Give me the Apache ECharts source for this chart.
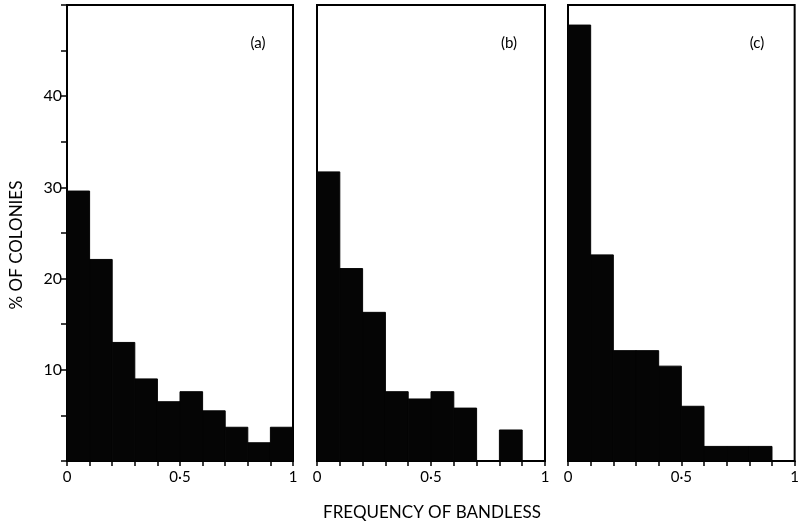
<!DOCTYPE html>
<html>
<head>
<meta charset="utf-8">
<style>
  html, body { margin: 0; padding: 0; background: #fff; }
  #chart { width: 802px; height: 528px; }
</style>
<script src="https://cdn.jsdelivr.net/npm/echarts@6/dist/echarts.min.js"></script>
</head>
<body>
<div id="chart"></div>
<script>
// Histogram bins of bandless frequency (lower edges, bin width 0.1)
const binStarts = [0, 0.1, 0.2, 0.3, 0.4, 0.5, 0.6, 0.7, 0.8, 0.9];
const binWidth = 0.1;

// % of colonies in each bin, one array per panel
const colonyPctA = [29.6, 22.1, 13.0, 9.0, 6.5, 7.6, 5.5, 3.7, 2.0, 3.7];
const colonyPctB = [31.7, 21.1, 16.3, 7.6, 6.8, 7.6, 5.8, 0, 3.4, 0];
const colonyPctC = [47.8, 22.6, 12.1, 12.1, 10.4, 6.0, 1.6, 1.6, 1.6, 0];

const panelLabels = ['(a)', '(b)', '(c)'];
const yTickLabels = [10, 20, 30, 40];
const xTickLabels = { 0: '0', 0.5: '0\u00b75', 1: '1' };
const yTitle = '% OF COLONIES';
const xTitle = 'FREQUENCY OF BANDLESS';

const FONT = 'Lato, "Open Sans", sans-serif';
const panels = [colonyPctA, colonyPctB, colonyPctC];

const gridBoxes = [
  { left: 67, top: 5, width: 226, height: 456 },
  { left: 317, top: 5, width: 228, height: 456 },
  { left: 568, top: 5, width: 229, height: 456 }
];

function binRows(values) {
  return binStarts.map((s, i) => [s, +(s + binWidth).toFixed(2), values[i]]);
}

// Each bin is a filled rectangle between its edges, from 0 up to its height
function renderBin(params, api) {
  const h = api.value(2);
  if (!h) return null;
  const p0 = api.coord([api.value(0), 0]);
  const p1 = api.coord([api.value(1), h]);
  return {
    type: 'rect',
    shape: { x: p0[0], y: p1[1], width: p1[0] - p0[0], height: p0[1] - p1[1] },
    style: { fill: '#050505', stroke: '#050505', lineWidth: 1 }
  };
}

const grid = gridBoxes.map(b => Object.assign({
  show: true, borderColor: '#000', borderWidth: 2, backgroundColor: 'transparent'
}, b));

const xAxis = gridBoxes.map((b, i) => ({
  type: 'value', gridIndex: i, min: 0, max: 1, interval: 0.1,
  axisLine: { show: true, lineStyle: { color: '#000', width: 2 } },
  axisTick: { show: true, inside: false, length: 5, lineStyle: { color: '#000', width: 1.5 } },
  splitLine: { show: false },
  axisLabel: {
    show: true, margin: 9, color: '#000', fontSize: 15, fontFamily: FONT,
    showMinLabel: true, showMaxLabel: true,
    formatter: v => {
      const k = Math.round(v * 10) / 10;
      return xTickLabels[k] !== undefined ? xTickLabels[k] : '';
    }
  }
}));

const yAxis = gridBoxes.map((b, i) => ({
  type: 'value', gridIndex: i, min: 0, max: 50, interval: 5,
  position: i === 2 ? 'right' : 'left',
  axisLine: { show: true, lineStyle: { color: '#000', width: 2 } },
  axisTick: { show: i !== 1, inside: false, length: 6, lineStyle: { color: '#000', width: 1.5 } },
  splitLine: { show: false },
  axisLabel: {
    show: i === 0, margin: 5, color: '#000', fontSize: 16, fontFamily: FONT,
    formatter: v => (yTickLabels.indexOf(Math.round(v)) >= 0 ? String(Math.round(v)) : '')
  }
}));

const series = panels.map((vals, i) => ({
  type: 'custom', xAxisIndex: i, yAxisIndex: i,
  renderItem: renderBin,
  encode: { x: [0, 1], y: 2 },
  data: binRows(vals),
  clip: true
}));

const labelCenters = [258, 509, 757];
const graphic = panelLabels.map((t, i) => ({
  type: 'text', x: labelCenters[i], y: 43,
  style: { text: t, fill: '#000', font: '15px ' + FONT, textAlign: 'center', textVerticalAlign: 'middle' }
}));
graphic.push({
  type: 'text', x: 17, y: 245, rotation: Math.PI / 2,
  style: { text: yTitle, fill: '#000', font: '17px ' + FONT, textAlign: 'center', textVerticalAlign: 'middle' }
});
graphic.push({
  type: 'text', x: 432, y: 513,
  style: { text: xTitle, fill: '#000', font: '17px ' + FONT, textAlign: 'center', textVerticalAlign: 'middle' }
});

const chart = echarts.init(document.getElementById('chart'), null, { renderer: 'canvas' });
chart.setOption({
  animation: false,
  backgroundColor: '#fff',
  grid, xAxis, yAxis, series, graphic
});
</script>
</body>
</html>
